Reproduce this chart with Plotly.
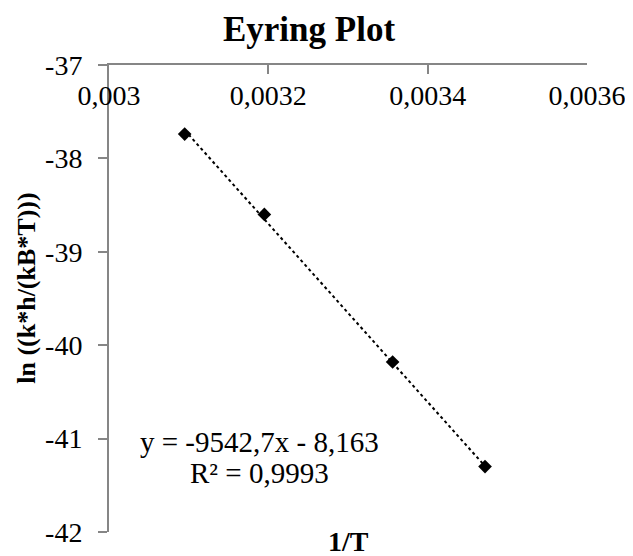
import plotly.graph_objects as go

# Data
inv_T = [0.003095, 0.003195, 0.003356, 0.003472]
ln_k = [-37.74, -38.60, -40.18, -41.30]

# Trendline coefficients shown on the chart
slope = -9542.7
intercept = -8.163
r2_text = "R² = 0,9993"
eq_text = "y = -9542,7x - 8,163"

x_ticks = [0.003, 0.0032, 0.0034, 0.0036]
x_ticktext = ["0,003", "0,0032", "0,0034", "0,0036"]
y_ticks = [-42, -41, -40, -39, -38, -37]
y_ticktext = ["-42", "-41", "-40", "-39", "-38", "-37"]

FONT = "Liberation Serif"
AXIS_COLOR = "#868686"

trend_x = [min(inv_T), max(inv_T)]
trend_y = [slope * v + intercept for v in trend_x]

fig = go.Figure()
fig.add_trace(go.Scatter(
    x=trend_x, y=trend_y, mode="lines",
    line=dict(color="black", width=2, dash="dot"),
    showlegend=False, hoverinfo="skip",
))
fig.add_trace(go.Scatter(
    x=inv_T, y=ln_k, mode="markers",
    marker=dict(symbol="diamond", size=10.5, color="black"),
    showlegend=False,
))

fig.update_layout(
    width=625, height=548,
    margin=dict(l=101, r=46, t=57, b=24, autoexpand=False),
    paper_bgcolor="white", plot_bgcolor="white",
    font=dict(family=FONT, size=28, color="black"),
    separators=", ",
    title=dict(text="<b>Eyring Plot</b>", x=0.4816, xanchor="center",
               xref="container", yref="container",
               y=0.962, yanchor="middle",
               font=dict(family=FONT, size=35, color="black")),
    xaxis=dict(
        range=[0.003, 0.0036], side="top", automargin=False,
        tickvals=x_ticks, ticktext=x_ticktext,
        ticks="inside", ticklen=9, tickwidth=2, tickcolor=AXIS_COLOR,
        ticklabelposition="inside", ticklabeloverflow="allow",
        ticklabelstandoff=14,
        showline=True, linecolor=AXIS_COLOR, linewidth=2,
        showgrid=False, zeroline=False,
        tickfont=dict(family=FONT, size=28, color="black"),
    ),
    yaxis=dict(
        range=[-42, -37], tickvals=y_ticks, ticktext=y_ticktext,
        automargin=False,
        ticks="outside", ticklen=9, tickwidth=2, tickcolor=AXIS_COLOR,
        ticklabelstandoff=10,
        showline=True, linecolor=AXIS_COLOR, linewidth=2,
        showgrid=False, zeroline=False,
        tickfont=dict(family=FONT, size=28, color="black"),
    ),
    annotations=[
        dict(text="<b>ln ((k*h/(kB*T)))</b>", xref="paper", yref="paper",
             x=-0.172, y=0.5225, xanchor="center", yanchor="middle",
             textangle=-90, showarrow=False,
             font=dict(family=FONT, size=26, color="black")),
        dict(text="<b>1/T</b>", xref="paper", yref="paper",
             x=0.5, y=-0.0214, xanchor="center", yanchor="middle",
             showarrow=False, font=dict(family=FONT, size=28, color="black")),
        dict(text=eq_text, xref="x", yref="y",
             x=0.0031895, y=-41.036, xanchor="center", yanchor="middle",
             showarrow=False,
             font=dict(family=FONT, size=29, color="black")),
        dict(text=r2_text, xref="x", yref="y",
             x=0.0031895, y=-41.368, xanchor="center", yanchor="middle",
             showarrow=False,
             font=dict(family=FONT, size=29, color="black")),
    ],
)

fig.write_html("out.html")
